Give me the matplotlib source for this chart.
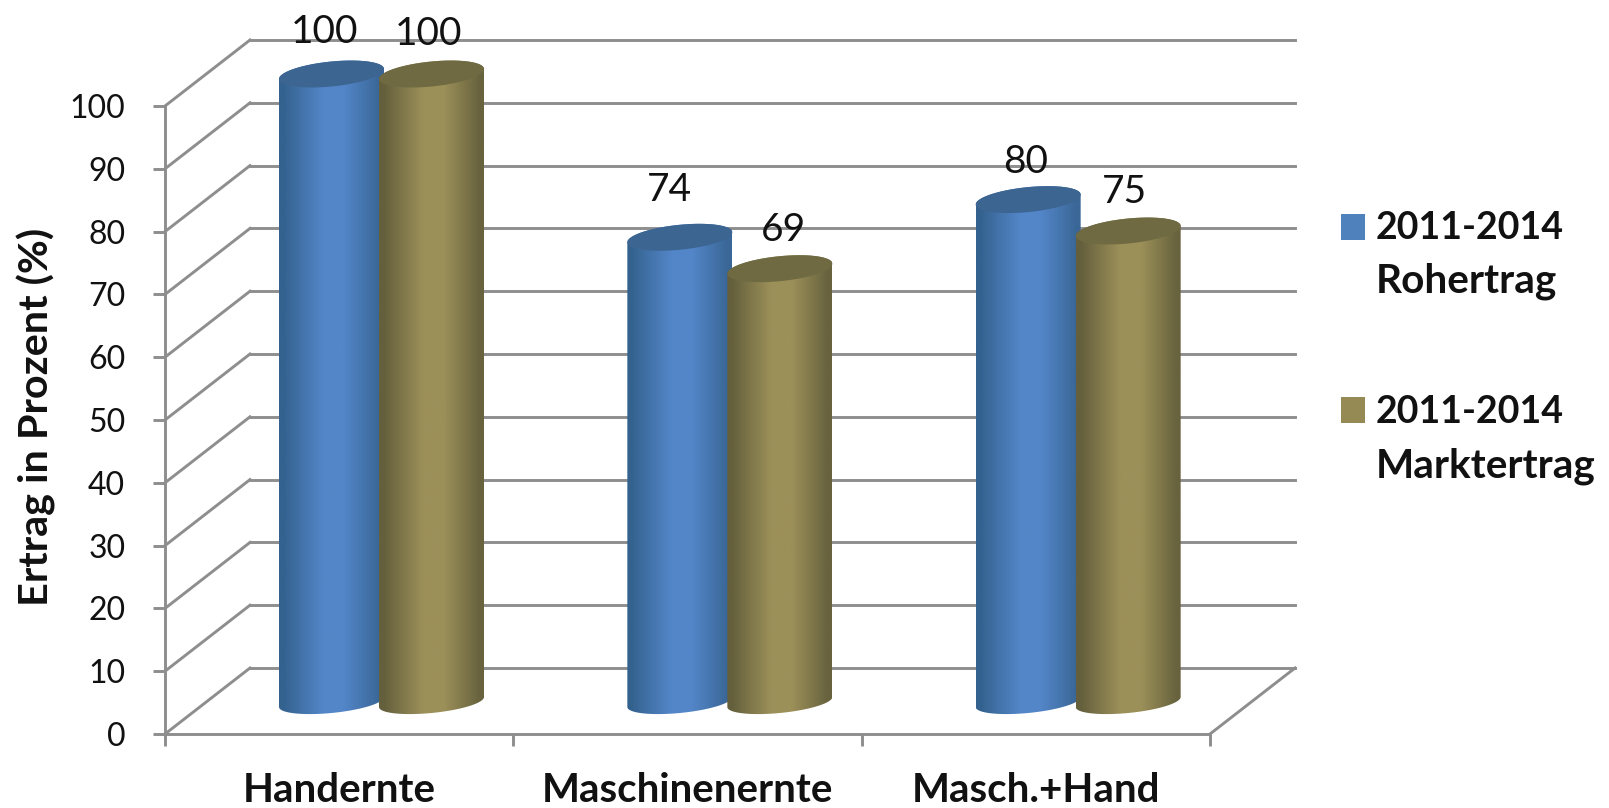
import numpy as np
import matplotlib
matplotlib.use("Agg")
import matplotlib.pyplot as plt
from matplotlib.patches import Polygon, Rectangle

plt.rcParams['font.family'] = ['Lato', 'DejaVu Sans']

categories = ["Handernte", "Maschinenernte", "Masch.+Hand"]
rohertrag = [100, 74, 80]
marktertrag = [100, 69, 75]
y_ticks = [0, 10, 20, 30, 40, 50, 60, 70, 80, 90, 100]
y_title = "Ertrag in Prozent (%)"
legend_labels = [("2011-2014", "Rohertrag"), ("2011-2014", "Marktertrag")]

W, H = 1609, 808
GRID = "#8e8e8e"
LINE_W = 2.1

# front plane of the fake 3d box, in pixels
LEFT, RIGHT, BOTTOM, TOP = 165, 1210, 734, 106
PX_X = 3 / (RIGHT - LEFT)
PX_Y = 100 / (BOTTOM - TOP)

# depth of the box and of the cylinders, in data units
DEPTH_X = 85 * PX_X
DEPTH_Y = 66 * PX_Y
BASE_Y = 32 * PX_Y
RADIUS = 52.5 * PX_X
TILT = 5 * PX_Y
MINOR = 12.5 * PX_Y
MINOR_BOTTOM = 11 * PX_Y

BLUE = dict(edge="#34628f", mid="#5386c8", right="#3a6797", top="#3c6592", swatch="#4f81bd")
OLIVE = dict(edge="#645f3c", mid="#9c9059", right="#68633e", top="#6f6a42", swatch="#958a54")

fig = plt.figure(figsize=(W / 100, H / 100), dpi=100)
ax = fig.add_axes([LEFT / W, 1 - BOTTOM / H, (RIGHT - LEFT) / W, (BOTTOM - TOP) / H])
ax.set_xlim(0, 3)
ax.set_ylim(0, 100)


def fig_xy(px, py):
    return px / W, 1 - py / H


def ellipse(cx, cy, t, minor=MINOR):
    return cx + RADIUS * np.cos(t), cy + TILT * np.cos(t) + minor * np.sin(t)


def cylinder(cx, value, colors, zorder):
    top = BASE_Y + value
    t = np.linspace(0, np.pi, 60)
    # body: upper half of the top ellipse plus lower half of the bottom one
    xt, yt = ellipse(cx, top, t)
    xb, yb = ellipse(cx, BASE_Y, t + np.pi, MINOR_BOTTOM)
    body = Polygon(np.column_stack([np.r_[xt, xb], np.r_[yt, yb]]), closed=True,
                   transform=ax.transData, fc="none", ec="none")
    ax.add_patch(body)

    stops = [0, 0.04, 0.42, 0.62, 0.96, 1]
    c = [colors["edge"], colors["edge"], colors["mid"], colors["mid"], colors["right"], colors["right"]]
    c = np.array([matplotlib.colors.to_rgb(k) for k in c])
    u = np.linspace(0, 1, 200)
    grad = np.stack([np.interp(u, stops, c[:, i]) for i in range(3)], axis=-1)[None, :, :]
    y0 = BASE_Y - 3 * MINOR
    y1 = top + 3 * MINOR
    im = ax.imshow(grad, extent=(cx - RADIUS, cx + RADIUS, y0, y1), aspect="auto",
                   zorder=zorder, interpolation="bilinear")
    im.set_clip_box(fig.bbox)
    im.set_clip_path(body)

    xe, ye = ellipse(cx, top, np.linspace(0, 2 * np.pi, 120))
    ax.add_patch(Polygon(np.column_stack([xe, ye]), closed=True, fc=colors["top"], ec="none",
                         clip_on=False, zorder=zorder + 0.1))


# back wall, side wall and floor lines
for v in y_ticks:
    ax.plot([DEPTH_X, 3 + DEPTH_X], [v + DEPTH_Y] * 2, color=GRID, lw=LINE_W, clip_on=False, zorder=1)
    ax.plot([0, DEPTH_X], [v, v + DEPTH_Y], color=GRID, lw=LINE_W, clip_on=False, zorder=1)
ax.plot([3, 3 + DEPTH_X], [0, DEPTH_Y], color=GRID, lw=LINE_W, clip_on=False, zorder=1)

# cylinders, olive sits in front of blue
blue_x = (331.5 - LEFT) * PX_X
olive_x = (431.5 - LEFT) * PX_X
label_dx = [[-7, -10, -3], [-3, 4, -4]]
label_dy = [[42, 47, 38], [40, 39, 39]]
for i in range(len(categories)):
    cylinder(i + blue_x, rohertrag[i], BLUE, 3 + i * 0.01)
    cylinder(i + olive_x, marktertrag[i], OLIVE, 4 + i * 0.01)
    for s, (vals, cx) in enumerate([(rohertrag, blue_x), (marktertrag, olive_x)]):
        ax.annotate(str(vals[i]), xy=(i + cx, vals[i] + BASE_Y),
                    xytext=(label_dx[s][i] * 0.72, label_dy[s][i] * 0.72),
                    textcoords="offset points", ha="center", va="center",
                    fontsize=28, color="#111111", zorder=6, annotation_clip=False)
ax.set_xlim(0, 3)
ax.set_ylim(0, 100)

# axes
for side in ["top", "right"]:
    ax.spines[side].set_visible(False)
for side in ["left", "bottom"]:
    ax.spines[side].set_color(GRID)
    ax.spines[side].set_linewidth(LINE_W)
ax.patch.set_alpha(0)
ax.set_yticks(y_ticks)
ax.tick_params(axis="y", length=8.6, width=LINE_W, color=GRID, pad=20, labelsize=23, labelcolor="#111111")
ax.set_xticks([0, 1, 2, 3])
ax.set_xticklabels([])
ax.tick_params(axis="x", which="major", length=8.6, width=LINE_W, color=GRID)
ax.set_xticks([0.5, 1.5, 2.5], minor=True)
ax.set_xticklabels(categories, minor=True, fontweight="bold", fontsize=29, color="#111111")
ax.tick_params(axis="x", which="minor", length=0, pad=27.5)

fig.text(*fig_xy(36, 417), y_title, rotation=90, ha="center", va="center",
         fontweight="bold", fontsize=29.8, color="#111111")

# legend, each entry spreads over two lines
legend_y = [(228, 281), (412, 466)]
legend_size = (27, 29.2)
swatch_y = [214, 397]
for k, colors in enumerate([BLUE, OLIVE]):
    x0, y0 = fig_xy(1341, swatch_y[k] + 26)
    fig.add_artist(Rectangle((x0, y0), 24 / W, 26 / H, transform=fig.transFigure,
                             fc=colors["swatch"], ec="none"))
    for line, py, size in zip(legend_labels[k], legend_y[k], legend_size):
        fig.text(*fig_xy(1376, py), line, ha="left", va="center", fontweight="bold",
                 fontsize=size, color="#111111")

fig.savefig("out.png", dpi=100)
